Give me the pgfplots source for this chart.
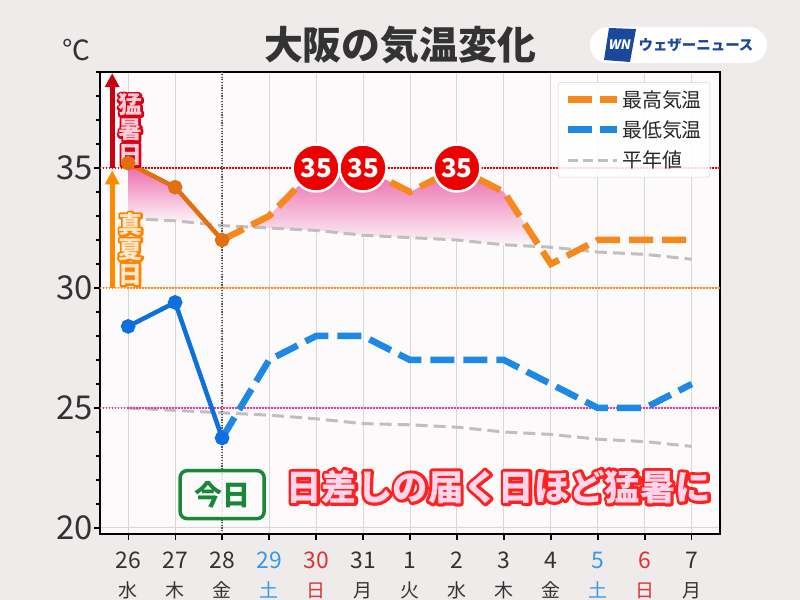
\documentclass[border=0pt]{standalone}
\usepackage{fontspec}
\setmainfont{Noto Sans CJK JP}
\usepackage{pgfplots}
\usepackage{pgfplotstable}
\pgfplotsset{compat=1.18}
\usetikzlibrary{arrows.meta}

\definecolor{bgout}{RGB}{238,235,234}
\definecolor{bgin}{RGB}{252,250,251}
\definecolor{maxobs}{RGB}{226,112,16}
\definecolor{maxfc}{RGB}{245,137,30}
\definecolor{minobs}{RGB}{14,112,222}
\definecolor{minfc}{RGB}{30,136,229}
\definecolor{normg}{RGB}{192,190,190}
\definecolor{gridg}{RGB}{216,216,216}
\definecolor{txt}{RGB}{51,51,51}
\definecolor{sat}{RGB}{51,153,238}
\definecolor{sun}{RGB}{221,51,51}
\definecolor{todayg}{RGB}{24,136,56}
\definecolor{badge}{RGB}{236,0,0}
\definecolor{wnblue}{RGB}{25,72,156}
\definecolor{labred}{RGB}{220,0,20}
\definecolor{labpink}{RGB}{255,205,215}
\definecolor{laborange}{RGB}{255,130,0}
\definecolor{labcream}{RGB}{255,232,205}
\definecolor{msgred}{RGB}{255,32,32}
\definecolor{msgpink}{RGB}{255,214,236}
\definecolor{fillpink}{RGB}{236,100,170}
\definecolor{arrred}{RGB}{204,0,16}
\definecolor{arrorange}{RGB}{255,138,0}

\pgfplotstableread{
x y
0 35.2
1 34.2
2 32.0
}\tMaxObs
\pgfplotstableread{
x y
2 32
3 33
4 35
5 35
6 34
7 35
8 34
9 31
10 32
11 32
12 32
}\tMaxFc
\pgfplotstableread{
x y
0 28.4
1 29.4
2 23.75
}\tMinObs
\pgfplotstableread{
x y
2 23.75
3 27
4 28
5 28
6 27
7 27
8 27
9 26
10 25
11 25
12 26
}\tMinFc
\pgfplotstableread{
x y
0 32.9
1 32.8
2 32.6
3 32.5
4 32.4
5 32.2
6 32.1
7 32.0
8 31.8
9 31.7
10 31.5
11 31.4
12 31.2
}\tNormMax
\pgfplotstableread{
x y
0 25.0
1 24.9
2 24.8
3 24.7
4 24.55
5 24.35
6 24.3
7 24.2
8 24.0
9 23.9
10 23.7
11 23.6
12 23.4
}\tNormMin
% area between max and normal max (where max is above normal)
\pgfplotstableread{
x y
0 35.2
1 34.2
1.7 32.66
1 32.8
0 32.9
}\tFillA
\pgfplotstableread{
x y
2.545 32.545
3 33
4 35
5 35
6 34
7 35
8 34
8.76 31.72
8 31.8
7 32.0
6 32.1
5 32.2
4 32.4
3 32.5
}\tFillB
\pgfplotstableread{
x y
4 35
5 35
7 35
}\tBadge

% outlined text: #1 outline colour, #2 fill colour, #3 stroke width (bp), #4 text
\newcommand{\outl}[4]{\leavevmode\rlap{\special{pdf:literal direct 1 Tr #3 w 1 j 1 J}\textcolor{#1}{#4}\special{pdf:literal direct 0 Tr}}\textcolor{#2}{#4}}
\newcommand{\redlab}[1]{\outl{labred}{labpink}{4.5}{#1}}
\newcommand{\orglab}[1]{\outl{laborange}{labcream}{4.5}{#1}}
\newcommand{\wk}[1]{{\fontsize{19}{19}\selectfont #1}}

\begin{document}
\begin{tikzpicture}
\fill[bgout] (0bp,0bp) rectangle (800bp,600bp);
\useasboundingbox (0bp,0bp) rectangle (800bp,600bp);
\begin{axis}[
  at={(100bp,66bp)}, anchor=south west,
  scale only axis, width=620bp, height=462bp,
  xmin=-0.6, xmax=12.6, ymin=19.75, ymax=39,
  axis background/.style={fill=bgin},
  axis line style={black, line width=2.5bp},
  tick pos=left, tick align=outside,
  major tick length=6bp, minor tick length=4bp,
  every tick/.style={black, line width=1.3bp},
  ytick={20,25,30,35}, minor ytick={20,...,39},
  xtick={0,...,12},
  xticklabels={{26\\\wk{水}},{27\\\wk{木}},{28\\\wk{金}},{\textcolor{sat}{29}\\\textcolor{sat}{\wk{土}}},{\textcolor{sun}{30}\\\textcolor{sun}{\wk{日}}},{31\\\wk{月}},{1\\\wk{火}},{2\\\wk{水}},{3\\\wk{木}},{4\\\wk{金}},{\textcolor{sat}{5}\\\textcolor{sat}{\wk{土}}},{\textcolor{sun}{6}\\\textcolor{sun}{\wk{日}}},{7\\\wk{月}}},
  xmajorgrids, ymajorgrids,
  grid style={gridg, line width=1bp},
  /pgf/number format/assume math mode=true,
  yticklabel style={font=\fontsize{33}{33}\selectfont, text=txt, inner sep=1bp},
  xticklabel style={font=\fontsize{23}{29}\selectfont, text=txt, align=center, inner sep=1bp, yshift=-11bp},
  legend cell align=left,
  legend image code/.code={\path (0bp,0bp) -- (49bp,0bp); \draw[#1] (0bp,0bp) -- (40bp,0bp);},
  legend style={at={(0.984,0.978)}, anchor=north east, draw=gridg, fill=white, fill opacity=0.85, text opacity=1, rounded corners=3bp, font=\fontsize{20}{20}\selectfont, text=black!85, row sep=8bp, inner sep=6bp},
]
% shaded area
\addplot[forget plot, draw=none, top color=fillpink, bottom color=bgin] table {\tFillA};
\addplot[forget plot, draw=none, top color=fillpink, bottom color=bgin] table {\tFillB};
% normal lines
\addplot[forget plot, normg, line width=3bp, dash pattern=on 12bp off 6bp] table {\tNormMax};
\addplot[forget plot, normg, line width=3bp, dash pattern=on 12bp off 6bp] table {\tNormMin};
% reference lines
\addplot[forget plot, red!90!black, line width=1.5bp, dash pattern=on 1.5bp off 1.5bp] coordinates {(-0.6,35) (12.6,35)};
\addplot[forget plot, arrorange, line width=1.5bp, dash pattern=on 1.5bp off 1.5bp] coordinates {(-0.6,30) (12.6,30)};
\addplot[forget plot, magenta!80!white, line width=1.5bp, dash pattern=on 1.5bp off 1.5bp] coordinates {(-0.6,25) (12.6,25)};
\addplot[forget plot, black!65, line width=1.3bp, dash pattern=on 1.2bp off 1.5bp] coordinates {(2,19.75) (2,39)};
% forecast
\addplot[forget plot, maxfc, line width=6.5bp, dash pattern=on 24bp off 9bp] table {\tMaxFc};
\addplot[forget plot, minfc, line width=6.5bp, dash pattern=on 24bp off 9bp] table {\tMinFc};
% observed
\addplot[forget plot, maxobs, line width=4.5bp, mark=*, mark size=5bp, mark options={solid, fill=maxobs, draw=maxobs}] table {\tMaxObs};
\addplot[forget plot, minobs, line width=4.5bp, mark=*, mark size=5bp, mark options={solid, fill=minobs, draw=minobs}] table {\tMinObs};
% badges
\addplot[forget plot, draw=none, mark=none, nodes near coords={35},
  every node near coord/.style={circle, fill=badge, draw=white, line width=2.5bp, minimum size=47bp, inner sep=0pt, anchor=center, font=\bfseries\fontsize{26}{26}\selectfont, text=white}] table {\tBadge};
% legend
\addlegendimage{maxfc, line width=7bp, dash pattern=on 24bp off 8bp}
\addlegendentry{最高気温}
\addlegendimage{minfc, line width=7bp, dash pattern=on 24bp off 8bp}
\addlegendentry{最低気温}
\addlegendimage{normg, line width=3bp, dash pattern=on 10bp off 5bp}
\addlegendentry{平年値}
% annotations
\draw[arrred, line width=5bp, -{Triangle[width=14bp,length=14bp]}] (axis cs:-0.34,35) -- (axis cs:-0.34,38.95);
\draw[arrorange, line width=5bp, -{Triangle[width=14bp,length=14bp]}] (axis cs:-0.34,30) -- (axis cs:-0.34,34.9);
\node[font=\bfseries\fontsize{24}{25}\selectfont, align=center, inner sep=0pt] at (axis cs:0.05,36.6) {\redlab{猛}\\\redlab{暑}\\\redlab{日}};
\node[font=\bfseries\fontsize{24}{25}\selectfont, align=center, inner sep=0pt] at (axis cs:0.05,31.62) {\orglab{真}\\\orglab{夏}\\\orglab{日}};
\node[draw=todayg, line width=3.5bp, rounded corners=7bp, fill=bgin, fill opacity=0.85, text opacity=1, minimum width=84bp, minimum height=48bp, text=todayg, font=\bfseries\fontsize{28}{28}\selectfont] at (axis cs:2,21.39) {今日};
\node[font=\bfseries\fontsize{35.5}{35.5}\selectfont] at (axis cs:7.89,21.72) {\outl{msgred}{msgpink}{6}{日差しの届く日ほど猛暑に}};
\end{axis}
% title etc
\node[font=\bfseries\fontsize{39}{39}\selectfont, text=txt] at (400bp,555bp) {大阪の気温変化};
\node[font=\fontsize{28}{28}\selectfont, text=txt] at (76bp,550bp) {℃};
\node[fill=white, rounded corners=18bp, minimum width=177bp, minimum height=36bp] at (678.5bp,555bp) {};
\fill[wnblue] (604bp,540bp) -- (630bp,538bp) -- (636bp,571bp) -- (609bp,572bp) -- cycle;
\node[text=white, font=\bfseries\itshape\fontsize{13}{13}\selectfont, xslant=0.2] at (620bp,555bp) {WN};
\node[text=wnblue, font=\bfseries\fontsize{14.5}{14.5}\selectfont, inner sep=0pt] at (696bp,555bp) {ウェザーニュース};
\end{tikzpicture}
\end{document}
